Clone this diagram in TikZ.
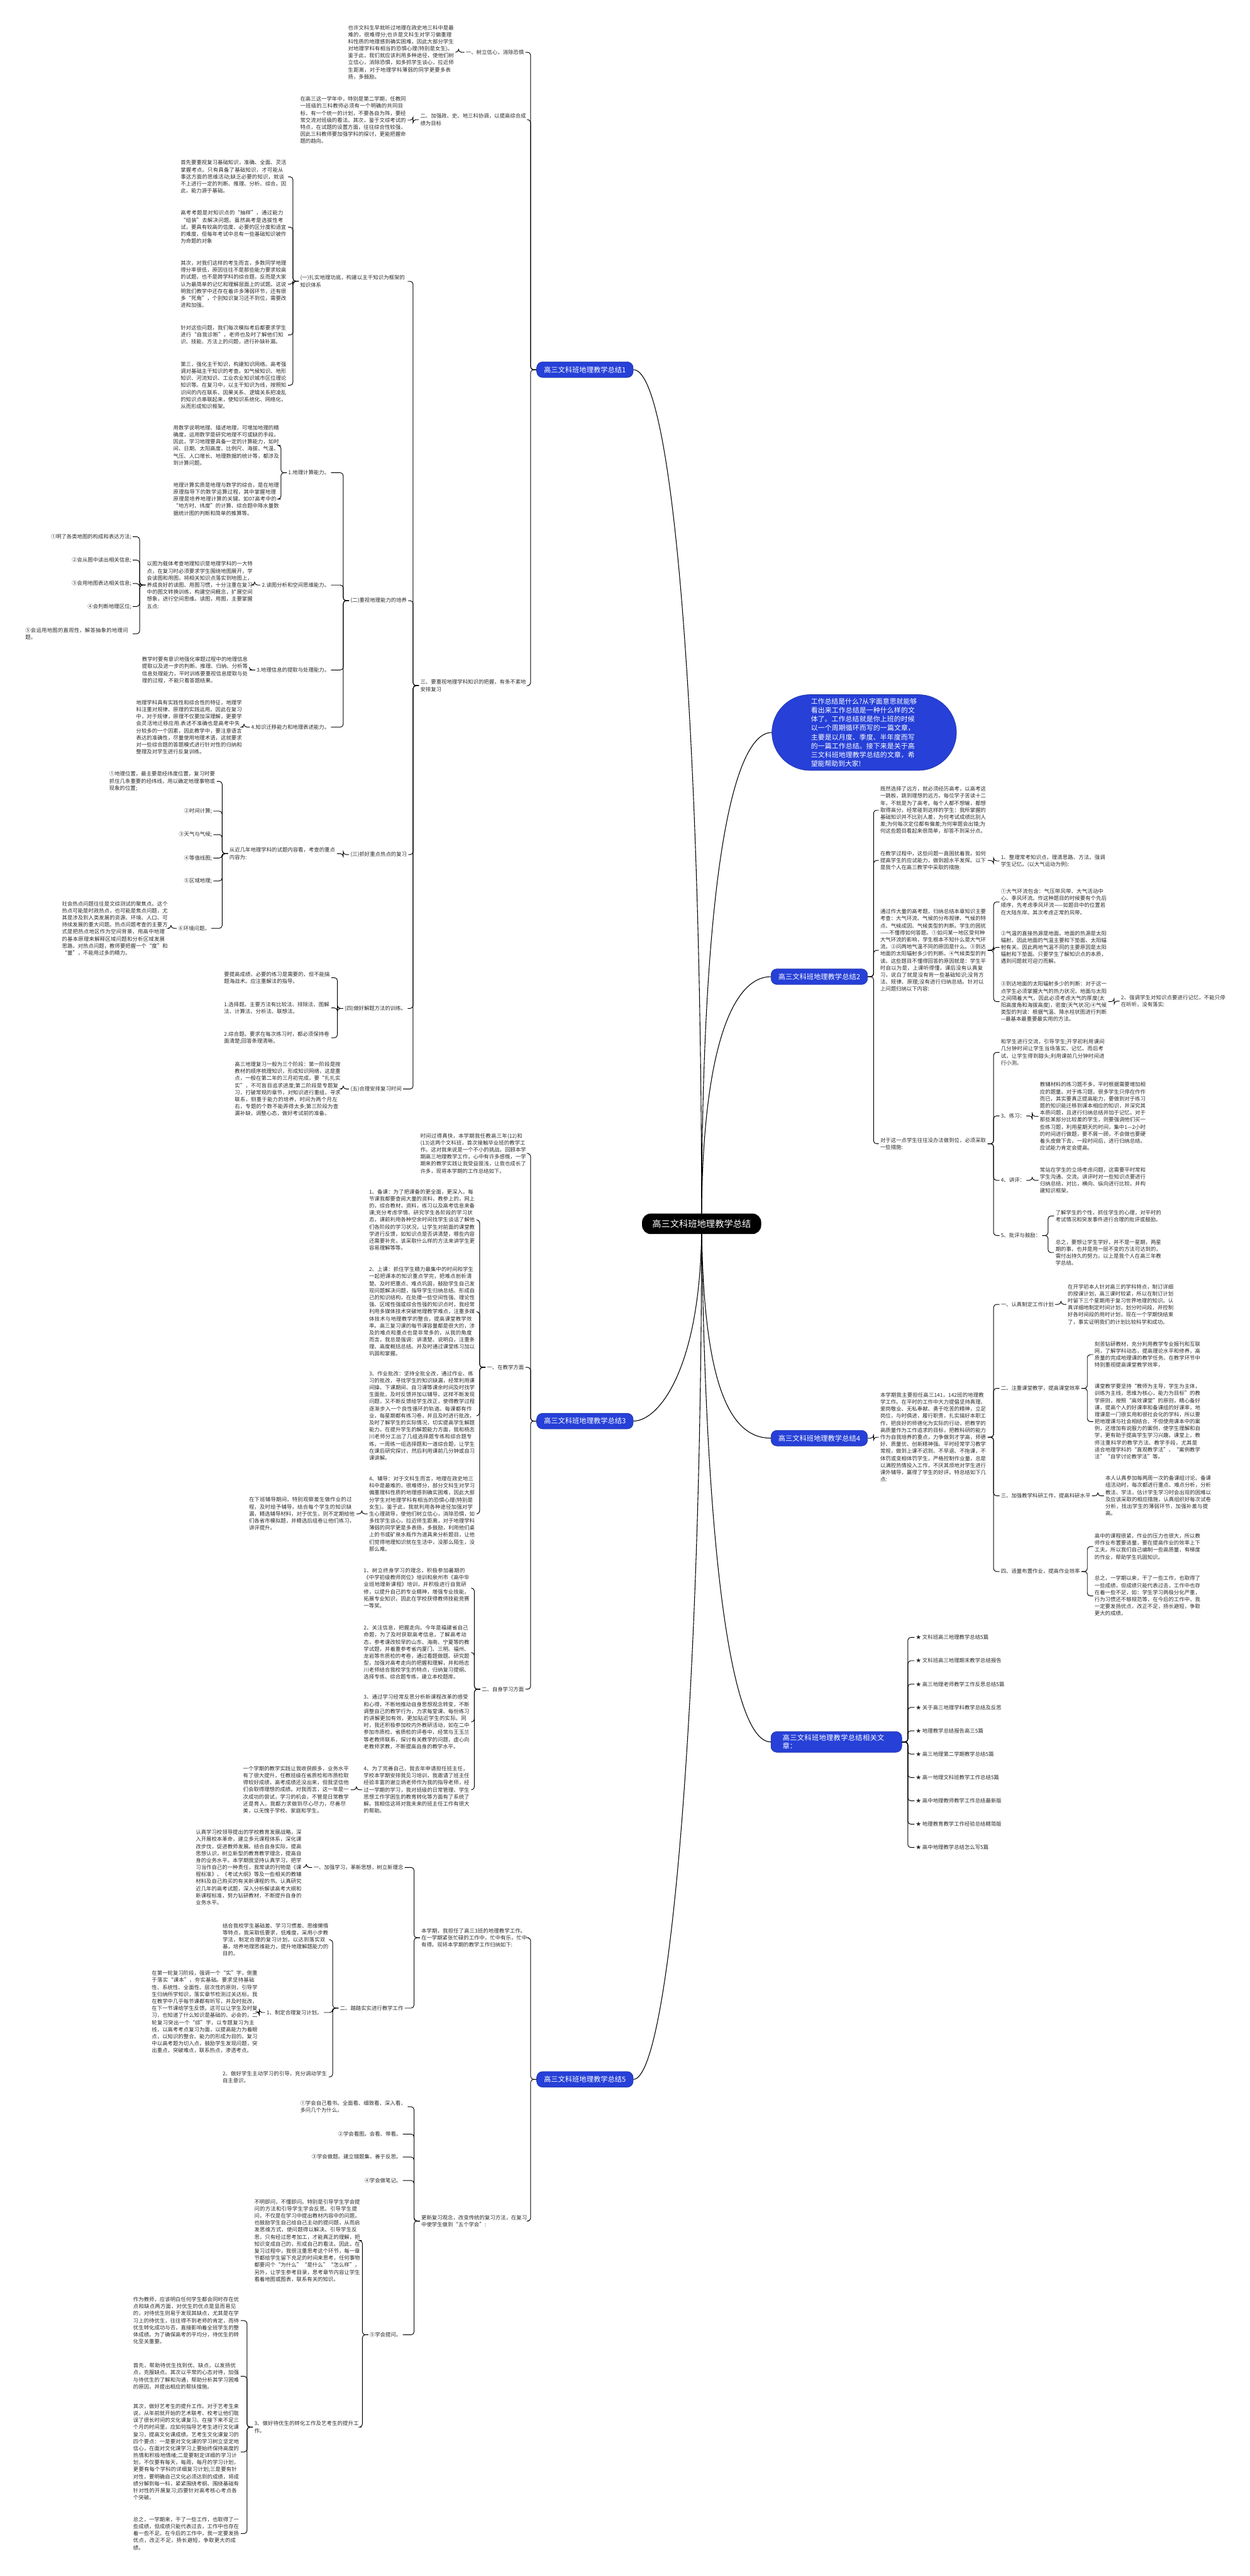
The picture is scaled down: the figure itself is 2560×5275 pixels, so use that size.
\documentclass[tikz,border=0pt]{standalone}
\usepackage{fontspec}
\setmainfont{Noto Sans CJK SC}
\XeTeXlinebreaklocale "zh"
\XeTeXlinebreakskip = 0pt plus 1pt
\usetikzlibrary{backgrounds}
\definecolor{zhuBlue}{RGB}{38,64,216}
\definecolor{wenzi}{HTML}{2B2B2B}
\tikzset{
  txt/.style={font=\fontsize{10.8}{14.4}\selectfont, text width=217pt, align=left,
              inner sep=0pt, outer sep=3pt, text=wenzi},
  lbl/.style={font=\fontsize{10.8}{14.4}\selectfont, inner sep=0pt, outer sep=3pt, text=wenzi},
  zhuti/.style={fill=zhuBlue, draw=zhuBlue!75!black, line width=0.8pt, text=white,
                rounded corners=12pt, font=\fontsize{14.5}{17}\selectfont,
                inner xsep=15pt, minimum height=32pt},
  zhongxin/.style={fill=black, text=white, rounded corners=18pt,
                   font=\fontsize{18.4}{22}\selectfont, minimum width=244pt, minimum height=42pt},
  lian/.style={line width=1.2pt, rounded corners=6pt},
  zhi/.style={line width=1.4pt}
}
\begin{document}
\begin{tikzpicture}[x=1pt, y=-1pt]
\useasboundingbox (0,0) rectangle (2560,5275);
% centre
\node[zhongxin] (zong) at (1437,2506) {高三文科班地理教学总结};
% ---------- 总结1 ----------
\node[zhuti] (zj1) at (1198,757) {高三文科班地理教学总结1};
\node[lbl, anchor=east] (zj1a) at (1076,107) {一、树立信心，消除恐惧};
\node[txt, anchor=west] (zj1a1) at (710,107) {也许文科生早就听过地理在政史地三科中是最难的，很难得分;也许是文科生对学习偏重理科性质的地理感到确实困难，因此大部分学生对地理学科有相当的恐惧心理(特别是女生)。鉴于此，我们就应该利用多种途径，使他们树立信心，消除恐惧，如多抓学生谈心，拉近师生距离，对于地理学科薄弱的同学更要多表扬，多鼓励。};
\node[txt, anchor=west] (zj1b) at (858,245) {二、加强政、史、地三科协调，以提高综合成绩为目标};
\node[txt, anchor=west] (zj1b1) at (612,246) {在高三这一学年中，特别是第二学期，任教同一班级的三科教师必须有一个明确的共同目标，有一个统一的计划，不要各自为阵，要经常交流对班级的看法。其次，鉴于文综考试的特点，在试题的设置方面，往往综合性较强，因此三科教师要加强学科的探讨，更能把握命题的趋向。};
\node[txt, anchor=west] (zj1c) at (858,1404) {三、要重视地理学科知识的把握，有条不紊地安排复习};
\node[txt, anchor=west] (fx1) at (612,576) {(一)扎实地理功底，构建以主干知识为框架的知识体系};
\node[txt, anchor=west] (fx1a) at (367,362) {首先要重视复习基础知识，准确、全面、灵活掌握考点。只有具备了基础知识，才可能从事这方面的思维活动;缺乏必要的知识，就谈不上进行一定的判断、推理、分析、综合。因此，能力源于基础。};
\node[txt, anchor=west] (fx1b) at (367,465) {高考考题是对知识点的“抽样”，通过能力“组装”去解决问题。虽然高考是选拔性考试，要具有较高的信度、必要的区分度和适宜的难度，但每年考试中总有一些基础知识被作为命题的对象};
\node[txt, anchor=west] (fx1c) at (367,582) {其次，对我们这样的考生而言，多数同学地理得分率很低，原因往往不是那些能力要求较高的试题，也不是跨学科的综合题，反而是大家认为最简单的记忆和理解层面上的试题。这说明我们教学中还存在着许多薄弱环节，还有很多“死角”，个别知识复习还不到位，需要改进和加强。};
\node[txt, anchor=west] (fx1d) at (367,686) {针对这些问题，我们每次模拟考后都要求学生进行“自我诊断”，老师也及时了解他们知识、技能、方法上的问题，进行补缺补漏。};
\node[txt, anchor=west] (fx1e) at (367,789) {第三，强化主干知识，构建知识网络。高考强调对基础主干知识的考查。如气候知识、地形知识、河流知识、工业农业知识城市区位理论知识等。在复习中，以主干知识为线，按照知识间的内在联系、因果关系、逻辑关系把凌乱的知识点串联起来，使知识系统化、网络化，从而形成知识框架。};
\node[lbl, anchor=west] (fx2) at (715,1230) {(二)重视地理能力的培养};
\node[lbl, anchor=east] (nl1) at (678,968) {1.地理计算能力。};
\node[txt, anchor=west] (nl1a) at (352,912) {用数学说明地理、描述地理，可增加地理的精确度，运用数学是研究地理不可或缺的手段。因此，学习地理要具备一定的计算能力，如时间、日期、太阳高度、比例尺、海拔、气温、气压、人口增长、地理数据的统计等，都涉及到计算问题。};
\node[txt, anchor=west] (nl1b) at (352,1022) {地理计算实质是地理与数学的综合，是在地理原理指导下的数学运算过程，其中掌握地理原理是培养地理计算的关键。如07高考中的“地方时、纬度”的计算、综合题中降水量数据统计图的判断和简单的推算等。};
\node[lbl, anchor=east] (nl2) at (678,1198) {2.读图分析和空间思维能力。};
\node[txt, anchor=west] (nl2a) at (298,1198) {以图为载体考查地理知识是地理学科的一大特点，在复习时必须要求学生围绕地图展开，学会读图和用图，将相关知识点落实到地图上，养成良好的读图、用图习惯，十分注重在复习中的图文转换训练，构建空间概念，扩展空间想象，进行空间思维。读图，用图，主要掌握五点:};
\node[lbl, anchor=east] (dt1) at (272,1099) {①明了各类地图的构成和表达方法;};
\node[lbl, anchor=east] (dt2) at (272,1147) {②会从图中读出相关信息;};
\node[lbl, anchor=east] (dt3) at (272,1195) {③会用地图表达相关信息;};
\node[lbl, anchor=east] (dt4) at (272,1242) {④会判断地理区位;};
\node[txt, anchor=east] (dt5) at (272,1298) {⑤会运用地图的直观性，解答抽象的地理问题。};
\node[lbl, anchor=east] (nl3) at (678,1372) {3.地理信息的提取与处理能力。};
\node[txt, anchor=west] (nl3a) at (288,1372) {教学时要有意识地强化审题过程中的地理信息提取以及进一步的判断、推理、归纳、分析等信息处理能力，平时训练要重视信息提取与处理的过程，不能只看答题结果。};
\node[lbl, anchor=east] (nl4) at (678,1489) {4.知识迁移能力和地理表述能力。};
\node[txt, anchor=west] (nl4a) at (276,1489) {地理学科具有实践性和综合性的特征，地理学科注重对规律、原理的实践运用。因此在复习中，对于规律，原理不仅要加深理解，更要学会灵活地迁移应用.表述不准确也是高考中失分较多的一个因素，因此教学中，要注意语言表达的准确性，尽量使用地理术语，这就要求对一些综合题的答题模式进行针对性的归纳和整理及对学生进行反复训练。};
\node[lbl, anchor=west] (fx3) at (715,1750) {(三)抓好重点热点的复习};
\node[txt, anchor=west] (fx3a) at (467,1748) {从近几年地理学科的试题内容看，考查的重点内容为:};
\node[txt, anchor=west] (rd1) at (221,1600) {①地理位置，最主要是经纬度位置，复习时要抓住几条重要的经纬线，用以确定地理事物或现象的位置;};
\node[lbl, anchor=east] (rd2) at (437,1661) {②时间计算;};
\node[lbl, anchor=east] (rd3) at (437,1709) {③天气与气候;};
\node[lbl, anchor=east] (rd4) at (437,1757) {④等值线图;};
\node[lbl, anchor=east] (rd5) at (437,1804) {⑤区域地理;};
\node[lbl, anchor=east] (rd6) at (433,1901) {⑥环境问题。};
\node[txt, anchor=west] (rd6a) at (124,1901) {社会热点问题往往是文综测试的聚焦点。这个热点可能是时政热点，也可能是焦点问题，尤其是涉及到人类发展的资源、环境、人口、可持续发展的重大问题。热点问题考查的主要方式是把热点地区作为空间背景，用高中地理的基本原理来解释区域问题和分析区域发展思路，对热点问题，教师要把握一个“度”和“量”，不能用过多的精力。};
\node[lbl, anchor=west] (fx4) at (703,2065) {(四)做好解题方法的训练。};
\node[txt, anchor=west] (fx4a) at (456,2002) {要提高成绩，必要的练习是需要的，但不能搞题海战术。应注重解法的指导。};
\node[txt, anchor=west] (fx4b) at (456,2064) {1.选择题。主要方法有比较法、排除法、图解法、计算法、分析法、联想法。};
\node[txt, anchor=west] (fx4c) at (456,2125) {2.综合题。要求在每次练习时，都必须保持卷面清楚;回答条理清晰。};
\node[lbl, anchor=west] (fx5) at (715,2230) {(五)合理安排复习时间};
\node[txt, anchor=west] (fx5a) at (478,2230) {高三地理复习一般为三个阶段：第一阶段是按教材的顺序梳理知识，形成知识网络，这是重点，一般在第二年的三月初完成，要“扎扎实实”，不可盲目追求进度;第二阶段是专题复习，打破常规的章节，对知识进行重组，寻求联系，侧重于能力的培养，时间为两个月左右，专题的个数不能弄得太多;第三阶段为查漏补缺，调整心态，做好考试前的准备。};
% ---------- 总结3 ----------
\node[zhuti] (zj3) at (1198,2910) {高三文科班地理教学总结3};
\node[txt, anchor=west] (zj3a) at (858,2362) {时间过得真快，本学期我任教高三年(12)和(13)这两个文科班，首次接触毕业班的教学工作。这对我来说是一个不小的挑战。回顾本学期高三地理教学工作，心中有许多感慨，一学期来的教学实践让我受益匪浅，让我也成长了许多，现将本学期的工作总结如下。};
\node[lbl, anchor=east] (jx) at (1076,2800) {一、在教学方面};
\node[txt, anchor=west] (jx1) at (753,2498) {1、备课：为了把课备的更全面，更深入，每节课我都要查阅大量的资料，教参上的，网上的，综合教材，资料，练习以及高考信息来备课;充分考虑学情、研究学生各阶段的学习状态，课前利用各种空余时间找学生谈话了解他们各阶段的学习状况，让学生对前面的课堂教学进行反馈，如知识点是否讲清楚，哪些内容还需要补充，该采取什么样的方法来讲学生更容易理解等等。};
\node[txt, anchor=west] (jx2) at (753,2686) {2、上课：抓住学生精力最集中的时间和学生一起把课本的知识重点学完，把难点剖析清楚。及时把重点、难点巩固，鼓励学生自己发现问题解决问题，指导学生归纳总结、形成自己的知识结构，在处理一些空间性强、理论性强、区域性强或综合性强的知识点时，我经常利用多媒体技术突破地理教学难点，注重多媒体技术与地理教学的整合，提高课堂教学效率。高三复习课的每节课容量都是很大的，涉及的难点和重点也是非常多的，从我的角度而言，我总是强调：讲清楚、说明白，注重条理、高度概括总结。并及时通过课堂练习加以巩固和掌握。};
\node[txt, anchor=west] (jx3) at (753,2899) {3、作业批改：坚持全批全改，通过作业、练习的批改，寻找学生的知识缺漏，经常利用课间操、下课期间、自习课等课余时间及时找学生面批，及时反馈并加以辅导。这样不断发现问题，又不断反馈给学生改正，使得教学过程逐渐步入一个良性循环的轨道。每课都有作业，每星期都有练习卷，并且及时进行批改，及时了解学生的实际情况，切实提高学生解题能力。在提升学生的解题能力方面，我和杨志川老师分工出了几组选择题专练和综合题专练，一周练一组选择题和一道综合题，让学生在课后研究探讨，然后利用课前几分钟或自习课讲解。};
\node[txt, anchor=west] (jx4) at (753,3100) {4、辅导：对于文科生而言，地理在政史地三科中是最难的，很难得分，部分文科生对学习偏重理科性质的地理感到确实困难，因此大部分学生对地理学科有相当的恐惧心理(特别是女生)。鉴于此，我就利用各种途径加强对学生心理疏导，使他们树立信心，消除恐惧，如多找学生谈心，拉近师生距离，对于地理学科薄弱的同学更是多表扬，多鼓励，利用他们桌上的书或矿泉水瓶作为道具来分析题目，让他们觉得地理知识就在生活中，没那么陌生，没那么难。};
\node[txt, anchor=west] (jx4a) at (507,3100) {在下班辅导期间，特别观察差生做作业的过程，及时给予辅导。结合每个学生的知识缺漏，精选辅导材料，对于优生，则不定期给他们各省市模拟题，并精选后组卷让他们练习，讲评提升。};
\node[lbl, anchor=east] (zx) at (1076,3459) {二、自身学习方面};
\node[txt, anchor=west] (zx1) at (742,3252) {1、树立终身学习的理念，积极参加暑期的《中学初级教师岗位》培训和泉州市《高中毕业班地理新课程》培训，并积极进行自我研修，以提升自己的专业精神，增强专业技能，拓展专业知识，因此在学校获得教师技能竞赛一等奖。};
\node[txt, anchor=west] (zx2) at (742,3384) {2、关注信息，把握走向。今年是福建省自己命题，为了及时获取高考信息，了解高考动态，参考课改较早的山东、海南、宁夏等的教学试题，并着重参考省内厦门、三明、福州、龙岩等市质检的考卷，通过看题做题、研究题型，加强对高考走向的把握和理解，并和杨志川老师结合我校学生的特点，归纳复习提纲、选择专练、综合题专练，建立本校题库。};
\node[txt, anchor=west] (zx3) at (742,3526) {3、通过学习经常反思分析新课程改革的感受和心得，不断地推动自身思想观念转变，不断调整自己的教学行为，力求每堂课、每份练习的讲解更加有效，更加贴近学生的实际。同时，我还积极参加校内外教研活动，如在二中参加市质检、省质检的评卷中，经常与王玉兰等老教师联系，探讨有关教学的问题，虚心向老教师求教，不断提高自身的教学水平。};
\node[txt, anchor=west] (zx4) at (742,3665) {4、为了完善自己，我去年申请担任班主任，学校本学期安排我见习培训，我邀请了班主任经验丰富的谢立炳老师作为我的指导老师，经过一学期的学习，我对班级的日常管理、学生思想工作学困生的教育转化等方面有了系统了解。我相信这将对我未来的班主任工作有很大的帮助。};
\node[txt, anchor=west] (zx4a) at (495,3665) {一个学期的教学实践让我收获颇多，业务水平有了很大提升，任教班级在省质检和市质检取得较好成绩，高考成绩还没出来，但我坚信他们会取得理想的成绩。对我而言，这一年是一次成功的尝试，学习的机会，不管是日常教学还是育人，我都力求做到尽心尽力，尽善尽美，以无愧于学校、家庭和学生。};
% ---------- 总结5 ----------
\node[zhuti] (zj5) at (1198,4258) {高三文科班地理教学总结5};
\node[txt, anchor=west] (zj5a) at (860,3968) {本学期，我担任了高三3班的地理教学工作。在一学期紧张忙碌的工作中，忙中有乐，忙中有得。现将本学期的教学工作归纳如下:};
\node[lbl, anchor=east] (xx) at (829,3824) {一、加强学习，革新思想，树立新理念};
\node[txt, anchor=west] (xxa) at (398,3824) {认真学习校领导提出的学校教育发展战略，深入开展校本革命，建立多元课程体系，深化课改步伐，促进教师发展。结合自身实际，提高思想认识，树立新型的教育教学理念，提高自身的业务水平。本学期我坚持认真学习，把学习当作自己的一种责任，我常读的刊物是《课程标准》、《考试大纲》等及一些相关的教辅材料及自己购买的有关新课程的书。认真研究近几年的高考试题，深入分析解读高考大纲和新课程标准，努力钻研教材，不断提升自身的业务水平。};
\node[lbl, anchor=east] (ts) at (829,4112) {二、踏踏实实进行教学工作};
\node[txt, anchor=west] (ts0) at (453,3972) {结合我校学生基础差、学习习惯差、思维懒惰等特点，我采取低要求，低难度，采用小步教学法，制定合理的复习计划，以达到落实双基，培养地理思维能力，提升地理解题能力的目的。};
\node[lbl, anchor=east] (ts1) at (663,4121) {1、制定合理复习计划。};
\node[txt, anchor=west] (ts1a) at (308,4120) {在第一轮复习阶段，强调一个“实”字，侧重于落实“课本”，夯实基础。要求坚持基础性、系统性、全面性、层次性的原则，引导学生归纳所学知识，落实章节检测过关达标。我在教学中几乎每节课都有听写，并及时批改，在下一节课给学生反馈。这可以让学生及时复习，也知道了什么知识是基础的、必会的，二轮复习突出一个“综”字，以专题复习为主线，以高考考点复习为面，以提高能力为着眼点，以知识的整合、能力的形成为目的。复习中以高考题为切入点，鼓励学生发现问题，突出重点，突破难点，联系热点，渗透考点。};
\node[txt, anchor=west] (ts2) at (453,4253) {2、做好学生主动学习的引导，充分调动学生自主意识。};
\node[txt, anchor=west] (zj5b) at (860,4548) {更新复习观念，改变传统的复习方法，在复习中使学生做到“五个学会”:};
\node[txt, anchor=west] (xh1) at (612,4314) {①学会自己看书。全面看、细致看、深入看，多问几个为什么。};
\node[lbl, anchor=east] (xh2) at (825,4370) {②学会看图。会看、带看。};
\node[lbl, anchor=east] (xh3) at (825,4417) {③学会做题。建立错题集，善于反思。};
\node[lbl, anchor=east] (xh4) at (825,4465) {④学会做笔记。};
\node[lbl, anchor=east] (xh5) at (825,4781) {⑤学会提问。};
\node[txt, anchor=west] (xh5a) at (518,4588) {不明即问，不懂即问。特别是引导学生学会提问的方法和引导学生学会反思。引导学生提问，不仅是在学习中提出教材内容中的问题，也鼓励学生自己给自己主动的提问题，从而启发思维方式，使问题得以解决。引导学生反思，只有经过思考加工，才能真正的理解，把知识变成自己的，形成自己的看法。因此，在复习过程中，我很注重思考这个环节，每一章节都给学生留下充足的时间来思考，任何事物都要问个“为什么”“是什么”“怎么样”，另外，让学生参考目录，思考章节内容让学生看着地图或图表，联系有关的知识。};
\node[txt, anchor=west] (xh5b) at (518,4970) {3、做好待优生的转化工作及艺考生的提升工作。};
\node[txt, anchor=west] (dy1) at (270,4752) {作为教师，应该明白任何学生都会同时存在优点和缺点两方面，对优生的优点是显而易见的，对待优生则易于发现其缺点，尤其是在学习上的待优生，往往得不到老师的肯定，而待优生转化成功与否，直接影响着全班学生的整体成绩。为了确保高考的平均分，待优生的转化至关重要。};
\node[txt, anchor=west] (dy2) at (270,4866) {首先，帮助待优生找到优、缺点，以发扬优点，克服缺点。其次以平常的心态对待，加强与待优生的了解和沟通，帮助分析其学习困难的原因，并提出相应的帮扶措施。};
\node[txt, anchor=west] (dy3) at (270,5021) {其次，做好艺考生的提升工作。对于艺考生来说，从年前就开始的艺术联考、校考让他们耽误了很长时间的文化课复习。在接下来不足三个月的时间里，应如何指导艺考生进行文化课复习，提高文化课成绩。艺考生文化课复习的四个要点：一是要对文化课的学习树立坚定地信心，在面对文化课学习上要始终保持高度的热情和积极地情绪;二是要制定详细的学习计划，不仅要有每天，每周，每月的学习计划，更要有每个学科的详细复习计划;三是要有针对性，要明确自己文化必须达到的成绩，将成绩分解到每一科，紧紧围绕考纲、围绕基础有针对性的开展复习;四要针对高考核心考点各个突破。};
\node[txt, anchor=west] (dy4) at (270,5188) {总之，一学期来，干了一些工作，也取得了一些成绩，但成绩只能代表过去，工作中也存在着一些不足。在今后的工作中，我一定要发扬优点，改正不足，扬长避短，争取更大的成绩。};
% ---------- 引言 ----------
\node[fill=zhuBlue, draw=zhuBlue!75!black, line width=0.8pt, text=white, rounded corners=78pt,
      font=\fontsize{14}{18.3}\selectfont, text width=218pt, align=left,
      inner xsep=80pt, inner ysep=7pt] (yin) at (1770,1500) {工作总结是什么?从字面意思就能够看出来工作总结是一种什么样的文体了。工作总结就是你上班的时候以一个周期循环而写的一篇文章，主要是以月度、季度、半年度而写的一篇工作总结。接下来是关于高三文科班地理教学总结的文章，希望能帮助到大家!};
% ---------- 总结2 ----------
\node[zhuti] (zj2) at (1678,2000) {高三文科班地理教学总结2};
\node[txt, anchor=west] (zj2a) at (1800,1659) {既然选择了远方，就必须经历高考，以高考这一跳板，跳到理想的远方。每位学子苦读十二年，不就是为了高考。每个人都不想输，都想取得高分。经常碰到这样的学生：我所掌握的基础知识并不比别人差，为何考试成绩比别人差;为何每次定位都有偏差;为何审题会出错;为何这些题目看起来很简单，却答不到采分点。};
\node[txt, anchor=west] (zj2b) at (1800,1762) {在教学过程中，这些问题一直困扰着我，如何提高学生的应试能力，做到超水平发挥。以下是我个人在高三教学中采取的措施:};
\node[txt, anchor=west] (zj2b1) at (2047,1763) {1、整理常考知识点，理清思路、方法。强调学生记忆。(以大气运动为例):};
\node[txt, anchor=west] (zj2c) at (1800,1946) {通过作大量的高考题，归纳总结本章知识主要考查：大气环流、气候的分布规律、气候的特点、气候成因、气候类型的判断。学生的困扰——不懂得如何答题。①如问某一地区受何种大气环流的影响，学生根本不知什么是大气环流。②问两地气温不同的原因是什么。③到达地面的太阳辐射多少的判断。④气候类型的判读。这些题目不懂得回答的原因就是：学生平时自以为是，上课听得懂，课后没有认真复习，说白了就是没有背一些基础知识;没背方法、规律、原理;没有进行归纳总结。针对以上问题归纳以下内容:};
\node[txt, anchor=west] (dq1) at (2047,1847) {①大气环流包含：气压带风带、大气活动中心、季风环流。作这种题目的时候要有个先后顺序，先考虑季风环流——如题目中的位置若在大陆东岸。其次考虑正常的风带。};
\node[txt, anchor=west] (dq2) at (2047,1940) {②气温的直接热源是地面。地面的热源是太阳辐射。因此地面的气温主要和下垫面、太阳辐射有关。因此两地气温不同的主要原因是太阳辐射和下垫面。只要学生了解知识点的本质，遇到问题就可迎刃而解。};
\node[txt, anchor=west] (dq3) at (2047,2051) {③到达地面的太阳辐射多少的判断：对于这一点学生必须掌握大气的热力状况，地面与太阳之间隔着大气，因此必须考虑大气的厚度(太阳高度角和海拔高度)，密度(天气状况)④气候类型的判读：根据气温、降水柱状图进行判断---最基本最重要最实用的方法。};
\node[txt, anchor=west] (dq3a) at (2293,2050) {2、强调学生对知识点要进行记忆，不能只停在听听，没有落实:};
\node[txt, anchor=west] (zj2d) at (1800,2342) {对于这一点学生往往没办法做到位，必须采取一些措施:};
\node[txt, anchor=west] (cs1) at (2047,2155) {和学生进行交流，引导学生;开学初利用课间几分钟时间让学生当场落实，记忆。而后考试，让学生得到甜头;利用课前几分钟时间进行小测。};
\node[lbl, anchor=west] (cs2) at (2047,2285) {3、练习：};
\node[txt, anchor=west] (cs2a) at (2127,2286) {教辅材料的练习题不多，平时根据需要增加相应的题量。对于练习题，很多学生只停在作作而已，其实要真正提高能力，要做到对于练习题的知识能迁移到课本相应的知识，并深究其本质问题，且进行归纳总结并加于记忆。对于那些某部分比较差的学生，则要强调他们买一些练习题，利用星期天的时间，集中1---2小时的时间进行做题，要不屑一顾，不会做也要硬着头皮做下去，一段时间后，进行归纳总结。应试能力肯定会提高。};
\node[lbl, anchor=west] (cs3) at (2047,2417) {4、讲评：};
\node[txt, anchor=west] (cs3a) at (2127,2417) {常站在学生的立场考虑问题，这需要平时常和学生沟通、交流。讲评时对一些知识点要进行归纳总结，对比，横向、纵向进行比较。并构建知识框架。};
\node[lbl, anchor=west] (cs4) at (2047,2530) {5、批评与鼓励：};
\node[txt, anchor=west] (cs4a) at (2159,2490) {了解学生的个性，抓住学生的心理，对平时的考试情况和突发事件进行合理的批评或鼓励。};
\node[txt, anchor=west] (cs4b) at (2159,2565) {总之，要想让学生学好，并不是一星期，两星期的事，也并是用一层不变的方法可达到的，需付出持久的努力。以上是我个人在高三年教学总结。};
% ---------- 总结4 ----------
\node[zhuti] (zj4) at (1678,2945) {高三文科班地理教学总结4};
\node[txt, anchor=west] (zj4a) at (1800,2943) {本学期我主要担任高三141，142班的地理教学工作。在平时的工作中大力提倡坚持真理、爱岗敬业、无私奉献、勇于吃苦的精神，立足岗位，与时俱进，履行职责，扎实搞好本职工作，把良好的师德化为实际的行动，把教学的高质量作为工作追求的目标，把教科研的能力作为自我培养的重点，力争做到才学高，师德好、质量优、创新精神强。平时经常学习教学常规，做到上课不迟到、不早退、不拖课，不体罚或变相体罚学生，严格控制作业量，总是以满腔热情投入工作，不厌其烦地对学生进行课外辅导，赢得了学生的好评。特总结如下几点:};
\node[lbl, anchor=west] (gz1) at (2047,2671) {一、认真制定工作计划};
\node[txt, anchor=west] (gz1a) at (2184,2671) {在开学初本人针对高三的学科特点，制订详细的授课计划，高三课时较紧，所以在制订计划时留下三个星期用于复习世界地理的知识。认真详细地制定时间计划，划分时间段，并控制好各时间段的用时计划，现在一个学期快结束了，事实证明我们的计划比较科学和成功。};
\node[lbl, anchor=west] (gz2) at (2047,2843) {二、注重课堂教学，提高课堂效率};
\node[txt, anchor=west] (gz2a) at (2239,2774) {刻苦钻研教材，充分利用教学专业报刊和互联网，了解学科动态，提高理论水平和修养，高质量的完成地理课的教学任务。在教学环节中特别重视提高课堂教学效率，};
\node[txt, anchor=west] (gz2b) at (2239,2911) {课堂教学要坚持“教师为主导，学生为主体，训练为主线，思维为核心，能力为目标”的教学原则，按照“高效课堂”的原则，精心备好课，提高个人的好课率和备课组的好课率，地理课是一门很实用和很社会化的学科，所以要把地理课与社会相结合，不但使用课本中的案例，还增加有说服力的案例，使学生理解和自学，更有助于提高学生学习兴趣。课堂上，教师注重科学的教学方法、教学手段，尤其是适合地理学科的“直观教学法”、“案例教学法”“自学讨论教学法”等。};
\node[lbl, anchor=west] (gz3) at (2047,3063) {三、加强教学科研工作，提高科研水平};
\node[txt, anchor=west] (gz3a) at (2261,3063) {本人认真参加每两周一次的备课组讨论。备课组活动时，每次都进行重点、难点分析，分析教法、学法，估计学生学习时会出现的困难以及应该采取的相应措施，认真组织好每次试卷分析，找出学生的薄弱环节，加强补差与提高。};
\node[lbl, anchor=west] (gz4) at (2047,3218) {四、适量布置作业，提高作业效率};
\node[txt, anchor=west] (gz4a) at (2239,3167) {高中的课程很紧，作业的压力也很大，所以教师作业布置要适量，要在提高作业的效率上下工夫。所以我们自己编制一些高质量，有梯度的作业，帮助学生巩固知识。};
\node[txt, anchor=west] (gz4b) at (2239,3268) {总之，一学期以来，干了一些工作，也取得了一些成绩，但成绩只能代表过去，工作中也存在着一些不足，如：学生学习两极分化严重，行为习惯还不够规范等，在今后的工作中，我一定要发扬优点，改正不足，扬长避短，争取更大的成绩。};
% ---------- 相关文章 ----------
\node[zhuti, text width=220pt, align=left, inner xsep=24pt, inner ysep=6pt] (xg) at (1713,3567) {高三文科班地理教学总结相关文章：};
\foreach \t [count=\i] in {文科班高三地理教学总结5篇, 文科班高三地理期末教学总结报告,
    高三地理老师教学工作反思总结5篇, 关于高三地理学科教学总结及反思,
    地理教学总结报告高三5篇, 高三地理第二学期教学总结5篇,
    高一地理文科班教学工作总结5篇, 高中地理教师教学工作总结最新版,
    地理教育教学工作经验总结精简版, 高中地理教学总结怎么写5篇}
  \node[lbl, anchor=west] (xg\i) at (1873,{3305.2+47.8*\i}) {★ \t};
% ---------- connectors ----------
\foreach \p/\c in {zj1/zj1a, zj1/zj1b, zj1/zj1c, zj1a/zj1a1, zj1b/zj1b1,
    zj1c/fx1, zj1c/fx2, zj1c/fx3, zj1c/fx4, zj1c/fx5,
    fx1/fx1a, fx1/fx1b, fx1/fx1c, fx1/fx1d, fx1/fx1e,
    fx2/nl1, fx2/nl2, fx2/nl3, fx2/nl4, nl1/nl1a, nl1/nl1b, nl2/nl2a,
    nl2a/dt1, nl2a/dt2, nl2a/dt3, nl2a/dt4, nl2a/dt5, nl3/nl3a, nl4/nl4a,
    fx3/fx3a, fx3a/rd1, fx3a/rd2, fx3a/rd3, fx3a/rd4, fx3a/rd5, fx3a/rd6, rd6/rd6a,
    fx4/fx4a, fx4/fx4b, fx4/fx4c, fx5/fx5a,
    zj3/zj3a, zj3/jx, zj3/zx, jx/jx1, jx/jx2, jx/jx3, jx/jx4, jx4/jx4a,
    zx/zx1, zx/zx2, zx/zx3, zx/zx4, zx4/zx4a,
    zj5/zj5a, zj5/zj5b, zj5a/xx, zj5a/ts, xx/xxa, ts/ts0, ts/ts1, ts/ts2, ts1/ts1a,
    zj5b/xh1, zj5b/xh2, zj5b/xh3, zj5b/xh4, zj5b/xh5, xh5/xh5a, xh5/xh5b,
    xh5b/dy1, xh5b/dy2, xh5b/dy3, xh5b/dy4}
  \draw[lian] (\p.west) -- ++(-12,0) |- (\c.east);
\foreach \p/\c in {zj2/zj2a, zj2/zj2b, zj2/zj2c, zj2/zj2d, zj2b/zj2b1,
    zj2c/dq1, zj2c/dq2, zj2c/dq3, dq3/dq3a,
    zj2d/cs1, zj2d/cs2, zj2d/cs3, zj2d/cs4, cs2/cs2a, cs3/cs3a, cs4/cs4a, cs4/cs4b,
    zj4/zj4a, zj4a/gz1, zj4a/gz2, zj4a/gz3, zj4a/gz4, gz1/gz1a, gz2/gz2a, gz2/gz2b,
    gz3/gz3a, gz4/gz4a, gz4/gz4b}
  \draw[lian] (\p.east) -- ++(12,0) |- (\c.west);
\foreach \i in {1,...,10}
  \draw[lian] (xg.east) -- ++(12,0) |- (xg\i.west);
% main branches
\begin{scope}[on background layer]
  \fill[white] (0,0) rectangle (2560,5275);
  \draw[zhi] (zong.center) .. controls (1437,1500) and (1380,757) .. (zj1.east);
  \draw[zhi] (zong.center) .. controls (1437,2800) and (1350,2910) .. (zj3.east);
  \draw[zhi] (zong.center) .. controls (1437,3500) and (1370,4258) .. (zj5.east);
  \draw[zhi] (zong.center) .. controls (1437,1800) and (1500,1500) .. (yin.west);
  \draw[zhi] (zong.center) .. controls (1437,2150) and (1500,2000) .. (zj2.west);
  \draw[zhi] (zong.center) .. controls (1440,2850) and (1500,2945) .. (zj4.west);
  \draw[zhi] (zong.center) .. controls (1445,3200) and (1500,3567) .. (xg.west);
\end{scope}
\end{tikzpicture}
\end{document}
